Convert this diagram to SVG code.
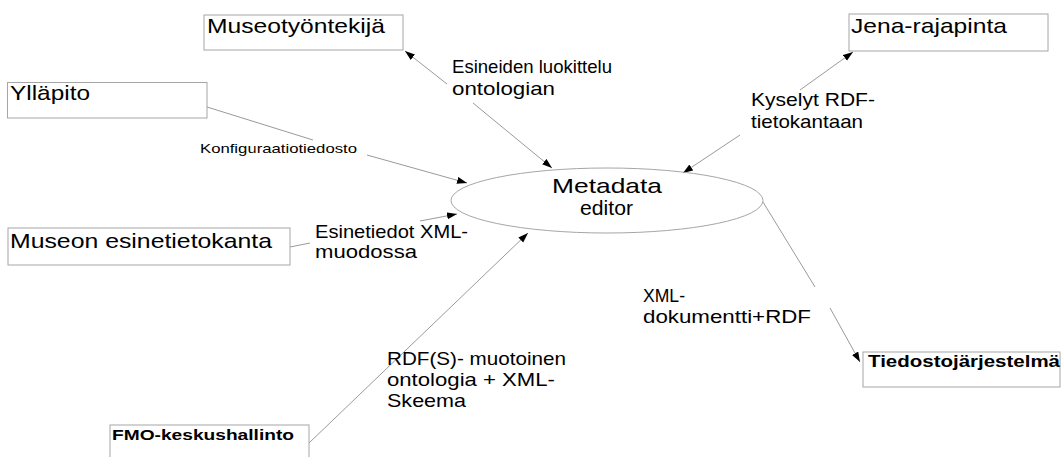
<svg xmlns="http://www.w3.org/2000/svg" width="1061" height="457" viewBox="0 0 1061 457">
<style>
.box{fill:#fff;stroke:#a6a6a6;stroke-width:1}
.bt{font-family:"Liberation Sans",Arial,sans-serif;font-size:21px;fill:#000}
.bb{font-family:"Liberation Sans",Arial,sans-serif;font-weight:bold;fill:#000}
.lb{font-family:"Liberation Sans",Arial,sans-serif;font-size:18.5px;fill:#000}
.me{font-family:"Liberation Sans",Arial,sans-serif;font-size:21px;fill:#000}
.sm{font-family:"Liberation Sans",Arial,sans-serif;font-size:13px;fill:#000}
.c{fill:none;stroke:#9a9a9a;stroke-width:1}
</style>
<defs>
<marker id="ah" markerUnits="userSpaceOnUse" markerWidth="11" markerHeight="8" refX="10" refY="3.5" orient="auto-start-reverse">
<path d="M0,0 L10,3.5 L0,7 z" fill="#000"/>
</marker>
</defs>
<rect width="1061" height="457" fill="#fff"/>
<g id="connectors">
<path class="c" d="M405,51 L447,84 M473,103 L552,168" marker-start="url(#ah)" marker-end="url(#ah)"/>
<path class="c" d="M207,107 L313,140 M367,155 L467,183" marker-end="url(#ah)"/>
<path class="c" d="M290,247 L310,243 M420,221 L457,214" marker-end="url(#ah)"/>
<path class="c" d="M853,52 L800,90 M740,135 L683,173" marker-start="url(#ah)" marker-end="url(#ah)"/>
<path class="c" d="M763,202 L815,287 M830,308 L860,362" marker-end="url(#ah)"/>
<path class="c" d="M309,443 L528,233" marker-end="url(#ah)"/>
<text class="lb" x="452" y="73" textLength="160" lengthAdjust="spacingAndGlyphs">Esineiden luokittelu</text>
<text class="lb" x="452" y="95" textLength="103" lengthAdjust="spacingAndGlyphs">ontologian</text>
<text class="sm" x="200" y="153" textLength="157" lengthAdjust="spacingAndGlyphs">Konfiguraatiotiedosto</text>
<text class="lb" x="751" y="106" textLength="124" lengthAdjust="spacingAndGlyphs">Kyselyt RDF-</text>
<text class="lb" x="751" y="128" textLength="112" lengthAdjust="spacingAndGlyphs">tietokantaan</text>
<text class="lb" x="315" y="238" textLength="153" lengthAdjust="spacingAndGlyphs">Esinetiedot XML-</text>
<text class="lb" x="315" y="258" textLength="102" lengthAdjust="spacingAndGlyphs">muodossa</text>
<text class="lb" x="643" y="302" textLength="42" lengthAdjust="spacingAndGlyphs">XML-</text>
<text class="lb" x="643" y="323" textLength="168" lengthAdjust="spacingAndGlyphs">dokumentti+RDF</text>
<text class="lb" x="387" y="365" textLength="179" lengthAdjust="spacingAndGlyphs">RDF(S)- muotoinen</text>
<text class="lb" x="387" y="386" textLength="168" lengthAdjust="spacingAndGlyphs">ontologia + XML-</text>
<text class="lb" x="387" y="407" textLength="79" lengthAdjust="spacingAndGlyphs">Skeema</text>
</g>
<g id="metadata-editor">
<ellipse cx="607" cy="200.5" rx="156" ry="32.5" fill="none" stroke="#a6a6a6" stroke-width="1"/>
<text class="me" x="552" y="193" textLength="110" lengthAdjust="spacingAndGlyphs">Metadata</text>
<text class="me" x="580" y="215" textLength="53" lengthAdjust="spacingAndGlyphs">editor</text>
</g>
<g id="museotyontekija">
<rect class="box" x="204" y="15" width="199" height="35"/>
<text class="bt" x="207" y="33" textLength="178" lengthAdjust="spacingAndGlyphs">Museotyöntekijä</text>
</g>
<g id="yllapito">
<rect class="box" x="7.5" y="82.5" width="199.5" height="35.5"/>
<text class="bt" x="10" y="100" textLength="80" lengthAdjust="spacingAndGlyphs">Ylläpito</text>
</g>
<g id="museon-esinetietokanta">
<rect class="box" x="8" y="228" width="282" height="37"/>
<text class="bt" x="10" y="248" textLength="262" lengthAdjust="spacingAndGlyphs">Museon esinetietokanta</text>
</g>
<g id="jena-rajapinta">
<rect class="box" x="849" y="14" width="199" height="37"/>
<text class="bt" x="851" y="33" textLength="156" lengthAdjust="spacingAndGlyphs">Jena-rajapinta</text>
</g>
<g id="tiedostojarjestelma">
<rect class="box" x="863" y="352" width="197" height="35"/>
<text class="bb" x="868" y="367" style="font-size:17px" textLength="192" lengthAdjust="spacingAndGlyphs">Tiedostojärjestelmä</text>
</g>
<g id="fmo-keskushallinto">
<rect class="box" x="110" y="425" width="199" height="45"/>
<text class="bb" x="112" y="440" style="font-size:15.5px" textLength="182" lengthAdjust="spacingAndGlyphs">FMO-keskushallinto</text>
</g>
</svg>
